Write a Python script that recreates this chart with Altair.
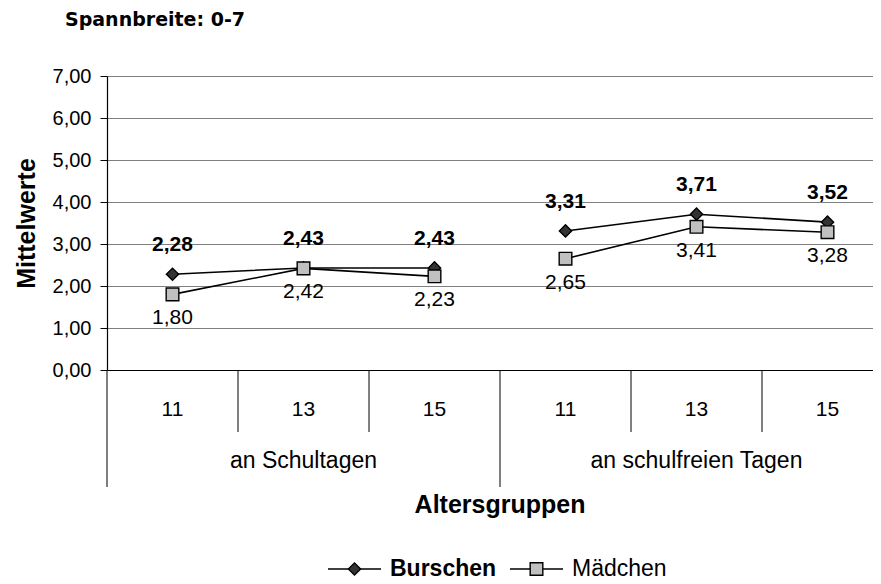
import altair as alt
import pandas as pd

# ---- data ----
groups = ["an Schultagen", "an schulfreien Tagen"]
ages = ["11", "13", "15"]
series = ["Burschen", "Mädchen"]
burschen = [2.28, 2.43, 2.43, 3.31, 3.71, 3.52]
maedchen = [1.80, 2.42, 2.23, 2.65, 3.41, 3.28]
y_ticks = [0, 1, 2, 3, 4, 5, 6, 7]

FONT = "Liberation Sans"
BAND_PX = 131
PLOT_W = 766
PLOT_H = 294
XMAX = PLOT_W / BAND_PX
SHAPES = ["diamond", "square"]
FILLS = ["#333333", "#c0c0c0"]
SIZES = [150, 160]

rows = []
for s, vals in zip(series, [burschen, maedchen]):
    for i, v in enumerate(vals):
        rows.append({
            "series": s,
            "group": groups[i // len(ages)],
            "age": ages[i % len(ages)],
            "pos": i + 0.5,
            "value": v,
            "label": f"{v:.2f}".replace(".", ","),
        })
df = pd.DataFrame(rows)

cat_rows = [{"age": ages[i % len(ages)], "pos": i + 0.5} for i in range(len(groups) * len(ages))]
df_cat = pd.DataFrame(cat_rows)

df_grp = pd.DataFrame({"group": groups,
                       "pos": [g * len(ages) + len(ages) / 2 for g in range(len(groups))]})

sep_rows = []
for b in range(len(groups) * len(ages)):
    sep_rows.append({"pos": b, "major": b % len(ages) == 0})
df_sep = pd.DataFrame(sep_rows)
df_title = pd.DataFrame({"t": ["Altersgruppen"], "pos": [len(groups) * len(ages) / 2]})

x_enc = alt.X("pos:Q", scale=alt.Scale(domain=[0, XMAX], nice=False, zero=False),
              axis=alt.Axis(labels=False, ticks=False, grid=False, title=None,
                            domain=True, domainColor="black", domainWidth=1.2))
y_scale = alt.Scale(domain=[0, 7], nice=False, zero=True)

base = alt.Chart(df)

lines = base.mark_line(color="black", strokeWidth=1.6).encode(
    x=x_enc,
    y=alt.Y("value:Q", scale=y_scale,
            axis=alt.Axis(values=y_ticks,
                          labelExpr="replace(format(datum.value, '.2f'), '.', ',')",
                          title="Mittelwerte", titleFont=FONT, titleFontSize=25,
                          titleFontWeight="bold", titleColor="black", titlePadding=13,
                          labelFont=FONT, labelFontSize=20, labelColor="black",
                          labelPadding=9, tickSize=7, tickColor="black",
                          domainColor="black", domainWidth=1.2,
                          grid=True, gridColor="#808080", gridWidth=1.2)),
    detail=["series:N", "group:N"],
)

points = base.mark_point(opacity=1, fillOpacity=1, stroke="black", strokeWidth=1.4).encode(
    x=x_enc,
    y=alt.Y("value:Q", scale=y_scale),
    shape=alt.Shape("series:N", scale=alt.Scale(domain=series, range=SHAPES), legend=None),
    fill=alt.Fill("series:N", scale=alt.Scale(domain=series, range=FILLS), legend=None),
    size=alt.Size("series:N", scale=alt.Scale(domain=series, range=SIZES), legend=None),
    order=alt.Order("series:N"),
)

lab_b = alt.Chart(df).transform_filter(alt.datum.series == series[0]).mark_text(
    font=FONT, fontSize=21, fontWeight="bold", color="black", dy=-29
).encode(x=x_enc, y=alt.Y("value:Q", scale=y_scale), text="label:N")

lab_m = alt.Chart(df).transform_filter(alt.datum.series == series[1]).mark_text(
    font=FONT, fontSize=21, color="black", dy=24
).encode(x=x_enc, y=alt.Y("value:Q", scale=y_scale), text="label:N")

# category axis (two levels) drawn below the plot
seps_minor = alt.Chart(df_sep).transform_filter("!datum.major").mark_rule(
    color="black", strokeWidth=1).encode(
    x=x_enc, y=alt.value(PLOT_H), y2=alt.value(PLOT_H + 62))
seps_major = alt.Chart(df_sep).transform_filter("datum.major").mark_rule(
    color="black", strokeWidth=1).encode(
    x=x_enc, y=alt.value(PLOT_H), y2=alt.value(PLOT_H + 117))

age_text = alt.Chart(df_cat).mark_text(font=FONT, fontSize=21, color="black").encode(
    x=x_enc, y=alt.value(334), text="age:N")
grp_text = alt.Chart(df_grp).mark_text(font=FONT, fontSize=23, color="black").encode(
    x=x_enc, y=alt.value(385), text="group:N")
xtitle = alt.Chart(df_title).mark_text(font=FONT, fontSize=25, fontWeight="bold",
                                       color="black").encode(
    x=x_enc, y=alt.value(429), text="t:N")

# legend (line + marker + label), laid out below the axis title
LEG_Y = 493
LEG_X = [221, 403]
LEG_SYM_W = 53
legend_layers = []
for k, s in enumerate(series):
    ldf = pd.DataFrame({"series": [s]})
    x0 = LEG_X[k]
    legend_layers.append(alt.Chart(ldf).mark_rule(color="black", strokeWidth=1.6).encode(
        x=alt.value(x0), x2=alt.value(x0 + LEG_SYM_W), y=alt.value(LEG_Y)))
    legend_layers.append(alt.Chart(ldf).mark_point(
        opacity=1, fillOpacity=1, stroke="black", strokeWidth=1.4,
        shape=SHAPES[k], fill=FILLS[k], size=SIZES[k]).encode(
        x=alt.value(x0 + LEG_SYM_W / 2), y=alt.value(LEG_Y)))
    legend_layers.append(alt.Chart(ldf).mark_text(
        font=FONT, fontSize=23, color="black", align="left",
        fontWeight="bold" if k == 0 else "normal").encode(
        x=alt.value(x0 + LEG_SYM_W + 9), y=alt.value(LEG_Y), text="series:N"))

chart = alt.layer(
    lines, seps_minor, seps_major, age_text, grp_text, xtitle, points, lab_b, lab_m,
    *legend_layers
).properties(
    width=PLOT_W, height=PLOT_H,
    padding={"left": 6, "top": 3, "right": 0, "bottom": 0},
    title=alt.Title("Spannbreite: 0-7", anchor="start", frame="group", dx=-42,
                    offset=36, font="DejaVu Sans", fontSize=19, fontWeight="bold",
                    color="black"),
).configure_view(stroke=None)

chart.save("out.html", embed_options={"renderer": "svg", "actions": False})
